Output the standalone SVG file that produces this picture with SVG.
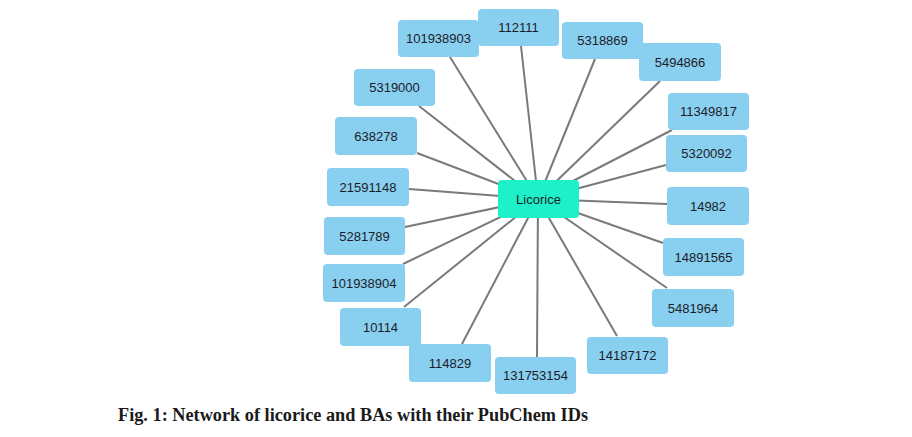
<svg xmlns="http://www.w3.org/2000/svg" width="912" height="437" viewBox="0 0 912 437">
<style>
.n rect{fill:#89cff0;rx:4;ry:4}
.c rect{fill:#1ef0c9;rx:4;ry:4}
text{font-family:"Liberation Sans",Arial,sans-serif;font-size:13px;fill:#1c1c28;text-anchor:middle}
.e line{stroke:#7a7a7a;stroke-width:2}
.cap{font-family:"Liberation Serif","Times New Roman",serif;font-size:18px;font-weight:bold;text-anchor:start;fill:#1a1a1a}
</style>
<rect width="912" height="437" fill="#fff"/>
<g id="edges" class="e">
<line x1="538" y1="199" x2="450" y2="57"/>
<line x1="538" y1="199" x2="521" y2="46"/>
<line x1="538" y1="199" x2="595" y2="59"/>
<line x1="538" y1="199" x2="660" y2="81"/>
<line x1="538" y1="199" x2="672" y2="130"/>
<line x1="538" y1="199" x2="666" y2="165"/>
<line x1="538" y1="199" x2="667" y2="204"/>
<line x1="538" y1="199" x2="663" y2="243"/>
<line x1="538" y1="199" x2="667" y2="288"/>
<line x1="538" y1="199" x2="617" y2="336"/>
<line x1="538" y1="199" x2="537" y2="357"/>
<line x1="538" y1="199" x2="462" y2="344"/>
<line x1="538" y1="199" x2="404" y2="307"/>
<line x1="538" y1="199" x2="403" y2="264"/>
<line x1="538" y1="199" x2="405" y2="227"/>
<line x1="538" y1="199" x2="409" y2="189"/>
<line x1="538" y1="199" x2="417" y2="153"/>
<line x1="538" y1="199" x2="419" y2="106"/>
</g>
<g id="n101938903" class="n"><rect x="398" y="20" width="81" height="37"/><text x="438.5" y="43">101938903</text></g>
<g id="n112111" class="n"><rect x="478" y="9" width="81" height="37"/><text x="518.5" y="32">112111</text></g>
<g id="n5318869" class="n"><rect x="562" y="22" width="81" height="37"/><text x="602.5" y="45">5318869</text></g>
<g id="n5494866" class="n"><rect x="639" y="43" width="82" height="38"/><text x="680" y="66.5">5494866</text></g>
<g id="n11349817" class="n"><rect x="668" y="93" width="81" height="37"/><text x="708.5" y="116">11349817</text></g>
<g id="n5320092" class="n"><rect x="666" y="135" width="81" height="37"/><text x="706.5" y="158">5320092</text></g>
<g id="n14982" class="n"><rect x="667" y="187" width="82" height="38"/><text x="708" y="210.5">14982</text></g>
<g id="n14891565" class="n"><rect x="663" y="238" width="81" height="38"/><text x="703.5" y="261.5">14891565</text></g>
<g id="n5481964" class="n"><rect x="652" y="289" width="82" height="38"/><text x="693" y="312.5">5481964</text></g>
<g id="n14187172" class="n"><rect x="587" y="337" width="81" height="37"/><text x="627.5" y="360">14187172</text></g>
<g id="n131753154" class="n"><rect x="495" y="357" width="81" height="37"/><text x="535.5" y="380">131753154</text></g>
<g id="n114829" class="n"><rect x="409" y="344" width="82" height="38"/><text x="450" y="367.5">114829</text></g>
<g id="n10114" class="n"><rect x="340" y="308" width="81" height="38"/><text x="380.5" y="331.5">10114</text></g>
<g id="n101938904" class="n"><rect x="323" y="264" width="82" height="38"/><text x="364" y="287.5">101938904</text></g>
<g id="n5281789" class="n"><rect x="324" y="217" width="81" height="38"/><text x="364.5" y="240.5">5281789</text></g>
<g id="n21591148" class="n"><rect x="327" y="168" width="82" height="38"/><text x="368" y="191.5">21591148</text></g>
<g id="n638278" class="n"><rect x="335" y="117" width="82" height="38"/><text x="376" y="140.5">638278</text></g>
<g id="n5319000" class="n"><rect x="354" y="69" width="81" height="37"/><text x="394.5" y="92">5319000</text></g>
<g id="licorice" class="c"><rect x="498" y="180" width="81" height="38"/><text x="538.5" y="203.5">Licorice</text></g>
<text class="cap" x="118" y="421" textLength="470" lengthAdjust="spacingAndGlyphs">Fig. 1: Network of licorice and BAs with their PubChem IDs</text>
</svg>
